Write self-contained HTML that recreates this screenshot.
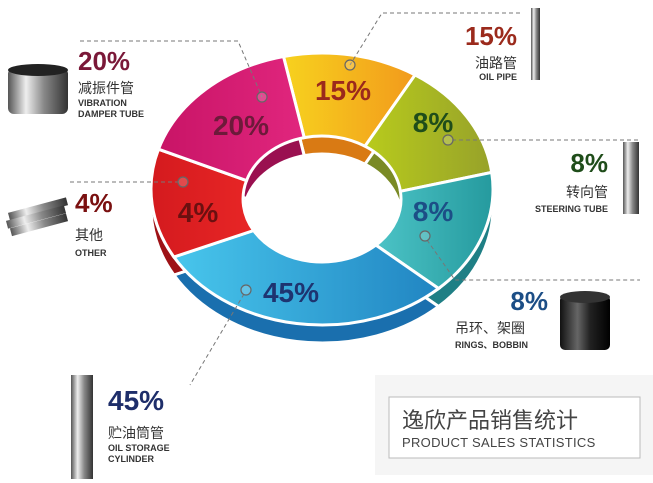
<!DOCTYPE html>
<html><head><meta charset="utf-8"><style>
html,body{margin:0;padding:0;background:#fff;}
body{width:653px;height:483px;overflow:hidden;position:relative;font-family:"Liberation Sans","Noto Sans CJK SC",sans-serif;}
</style></head><body>
<svg id="s" width="653" height="483" viewBox="0 0 653 483" xmlns="http://www.w3.org/2000/svg" style="position:absolute;left:0;top:0">
<defs>
<linearGradient id="gOr" x1="0" x2="1"><stop offset="0" stop-color="#f7d21e"/><stop offset="1" stop-color="#f29a1c"/></linearGradient>
<linearGradient id="gGr" x1="0" x2="1"><stop offset="0" stop-color="#b8cb1c"/><stop offset="1" stop-color="#97a22a"/></linearGradient>
<linearGradient id="gTe" x1="0" x2="1"><stop offset="0" stop-color="#4cc3c6"/><stop offset="1" stop-color="#259a9e"/></linearGradient>
<linearGradient id="gBl" x1="0" x2="1"><stop offset="0" stop-color="#48c6ec"/><stop offset="1" stop-color="#2185c2"/></linearGradient>
<linearGradient id="gRe" x1="0" x2="1"><stop offset="0" stop-color="#d41a1e"/><stop offset="1" stop-color="#e82626"/></linearGradient>
<linearGradient id="gPk" x1="0" x2="1"><stop offset="0" stop-color="#c81466"/><stop offset="1" stop-color="#e1267e"/></linearGradient>
<linearGradient id="metal" x1="0" x2="1"><stop offset="0" stop-color="#555"/><stop offset=".3" stop-color="#eee"/><stop offset=".6" stop-color="#888"/><stop offset="1" stop-color="#333"/></linearGradient>
<linearGradient id="blk" x1="0" x2="1"><stop offset="0" stop-color="#111"/><stop offset=".35" stop-color="#666"/><stop offset=".6" stop-color="#222"/><stop offset="1" stop-color="#000"/></linearGradient>
</defs>
<rect x="375" y="375" width="278" height="100" fill="#f5f5f5"/>
<rect x="389" y="397" width="251" height="61" fill="#fff" stroke="#bbb" stroke-width="1"/>
<g id="ring"></g>
<g fill="none" stroke="#777" stroke-width="1" stroke-dasharray="4,3">
<polyline points="80,41 238,41 262,97"/>
<polyline points="520,13 382,13 350,65"/>
<polyline points="452,140 640,140"/>
<polyline points="70,182 179,182"/>
<polyline points="427,240 455,280 640,280"/>
<polyline points="244,294 190,385"/>
</g>
<g fill="#fff" fill-opacity="0.2" stroke="#666" stroke-width="1.2">
<circle cx="262" cy="97" r="5"/><circle cx="350" cy="65" r="5"/><circle cx="448" cy="140" r="5"/>
<circle cx="183" cy="182" r="5"/><circle cx="425" cy="236" r="5"/><circle cx="246" cy="290" r="5"/>
</g>
<g font-weight="bold" font-size="28" text-anchor="middle">
<text x="343" y="100" fill="#9b2a1c">15%</text>
<text x="241" y="135" fill="#6d1a3a">20%</text>
<text x="433" y="132" fill="#1f4d1a">8%</text>
<text x="433" y="221" fill="#1c4e86">8%</text>
<text x="198" y="222" fill="#6b1010">4%</text>
<text x="291" y="302" fill="#1e3470">45%</text>
</g>
<g font-weight="bold" font-size="26">
<text x="78" y="70" fill="#7a1838">20%</text>
<text x="75" y="212" fill="#7a1010">4%</text>
<text x="108" y="410" fill="#1e2e6a" font-size="28">45%</text>
<text x="517" y="45" fill="#9b2a1c" text-anchor="end">15%</text>
<text x="608" y="172" fill="#1f4d1a" text-anchor="end">8%</text>
<text x="548" y="310" fill="#1c4e86" text-anchor="end">8%</text>
</g>
<g font-size="14" fill="#333">
<text x="78" y="93">减振件管</text>
<text x="75" y="240">其他</text>
<text x="108" y="438">贮油筒管</text>
<text x="517" y="68" text-anchor="end">油路管</text>
<text x="608" y="197" text-anchor="end">转向管</text>
<text x="455" y="333">吊环、架圈</text>
</g>
<g font-size="9" font-weight="bold" fill="#333">
<text x="78" y="106">VIBRATION</text><text x="78" y="117">DAMPER TUBE</text>
<text x="75" y="256">OTHER</text>
<text x="108" y="451">OIL STORAGE</text><text x="108" y="462">CYLINDER</text>
<text x="517" y="80" text-anchor="end">OIL PIPE</text>
<text x="608" y="212" text-anchor="end">STEERING TUBE</text>
<text x="455" y="348">RINGS、BOBBIN</text>
</g>
<text x="402" y="428" font-size="22" fill="#444">逸欣产品销售统计</text>
<text x="402" y="447" font-size="13" fill="#444" letter-spacing="0.3">PRODUCT  SALES  STATISTICS</text>
<rect x="8" y="68" width="60" height="46" rx="6" fill="url(#metal)"/>
<ellipse cx="38" cy="70" rx="30" ry="6" fill="#222"/>
<g fill="url(#metal)"><rect x="8" y="205" width="60" height="8" transform="rotate(-15 38 209)"/><rect x="6" y="213" width="60" height="8" transform="rotate(-15 36 217)"/><rect x="10" y="221" width="58" height="8" transform="rotate(-15 38 225)"/></g>
<rect x="71" y="375" width="22" height="104" fill="url(#metal)"/>
<rect x="531" y="8" width="9" height="72" fill="url(#metal)"/>
<rect x="623" y="142" width="16" height="72" fill="url(#metal)"/>
<rect x="560" y="295" width="50" height="55" rx="5" fill="url(#blk)"/>
<ellipse cx="585" cy="297" rx="25" ry="6" fill="#333"/>
</svg>
<script>
var cx=322,cy=189,rx=171,ry=136,irx=79,iry=63,icy=199;
function P(t,a,b,y){t=t*Math.PI/180;return [(cx+a*Math.sin(t)).toFixed(1),(y-b*Math.cos(t)).toFixed(1)];}
function wedge(t0,t1,dy){var L=(t1-t0)>180?1:0;var a=P(t0,rx,ry,cy+dy),b=P(t1,rx,ry,cy+dy),c=P(t1,irx,iry,icy+dy),d=P(t0,irx,iry,icy+dy);
return "M"+a+" A"+rx+" "+ry+" 0 "+L+" 1 "+b+" L"+c+" A"+irx+" "+iry+" 0 "+L+" 0 "+d+"Z";}
var segs=[[-13,33,"url(#gOr)","#d97a14"],[33,83,"url(#gGr)","#7a8a25"],[83,137,"url(#gTe)","#1f7f85"],[137,240,"url(#gBl)","#1a6fae"],[240,287,"url(#gRe)","#9e1216"],[287,347,"url(#gPk)","#9a1050"]];
var h="";
segs.forEach(function(s){h+='<path d="'+wedge(s[0],s[1],18)+'" fill="'+s[3]+'" stroke="#fff" stroke-width="3"/>';});
segs.forEach(function(s){h+='<path d="'+wedge(s[0],s[1],0)+'" fill="'+s[2]+'" stroke="#fff" stroke-width="3"/>';});
document.getElementById("ring").innerHTML=h;
</script>
</body></html>
